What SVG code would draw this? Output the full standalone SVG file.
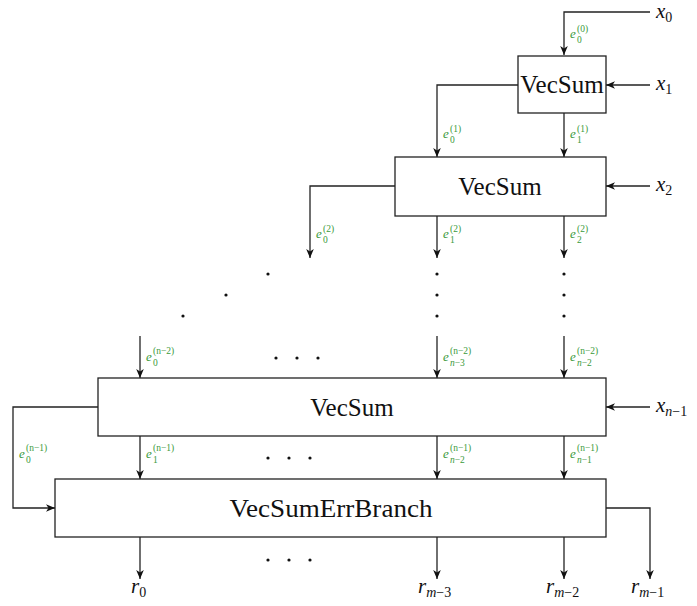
<svg xmlns="http://www.w3.org/2000/svg" width="697" height="606" viewBox="0 0 697 606">
<style>
.box{fill:#fff;stroke:#222;stroke-width:1.3}
.ln{fill:none;stroke:#222;stroke-width:1.3}
text{font-family:'Liberation Serif','DejaVu Serif',serif}
.lbl{font-size:25px;fill:#111}
.m{font-style:italic;font-size:21px;fill:#111}
.ms{font-size:14px;font-style:normal}
.msi{font-size:14px}
.g{fill:#3a9a3a;font-size:13px;font-style:italic}
.gs{font-size:9.5px;font-style:normal}
.gsi{font-size:9.5px}
.dot{fill:#111}
</style>
<defs>
<marker id="ah" markerUnits="userSpaceOnUse" viewBox="-10 -5 11 10" refX="0" refY="0" markerWidth="11" markerHeight="10" orient="auto">
<path d="M0,0 L-9,-3.8 L-6.5,0 L-9,3.8 Z" fill="#111"/>
</marker>
</defs>
<g id="connectors">
<path class="ln" d="M650,12 H564 V55" marker-end="url(#ah)"/>
<path class="ln" d="M650,85 H606" marker-end="url(#ah)"/>
<path class="ln" d="M518,85 H437 V157" marker-end="url(#ah)"/>
<path class="ln" d="M564,113 V157" marker-end="url(#ah)"/>
<path class="ln" d="M650,186 H606" marker-end="url(#ah)"/>
<path class="ln" d="M395,186 H310 V258" marker-end="url(#ah)"/>
<path class="ln" d="M437,216 V258" marker-end="url(#ah)"/>
<path class="ln" d="M564,216 V258" marker-end="url(#ah)"/>
<path class="ln" d="M140,336 V378" marker-end="url(#ah)"/>
<path class="ln" d="M437,336 V378" marker-end="url(#ah)"/>
<path class="ln" d="M564,336 V378" marker-end="url(#ah)"/>
<path class="ln" d="M650,407 H606" marker-end="url(#ah)"/>
<path class="ln" d="M98,407 H13 V508 H55" marker-end="url(#ah)"/>
<path class="ln" d="M140,436 V479" marker-end="url(#ah)"/>
<path class="ln" d="M437,436 V479" marker-end="url(#ah)"/>
<path class="ln" d="M564,436 V479" marker-end="url(#ah)"/>
<path class="ln" d="M606,508 H650 V579" marker-end="url(#ah)"/>
<path class="ln" d="M140,537 V579" marker-end="url(#ah)"/>
<path class="ln" d="M437,537 V579" marker-end="url(#ah)"/>
<path class="ln" d="M564,537 V579" marker-end="url(#ah)"/>
</g>
<g id="vecsum1">
<rect class="box" x="518" y="56" width="88" height="57"/>
<text class="lbl" x="562" y="93" text-anchor="middle">VecSum</text>
</g>
<g id="vecsum2">
<rect class="box" x="395" y="157" width="211" height="59"/>
<text class="lbl" x="500" y="195" text-anchor="middle">VecSum</text>
</g>
<g id="vecsum3">
<rect class="box" x="98" y="378" width="508" height="58"/>
<text class="lbl" x="352" y="416" text-anchor="middle">VecSum</text>
</g>
<g id="vecsumerrbranch">
<rect class="box" x="55" y="479" width="551" height="58"/>
<text class="lbl" x="331" y="517" text-anchor="middle" textLength="203" lengthAdjust="spacingAndGlyphs">VecSumErrBranch</text>
</g>
<g id="inputs">
<text class="m" x="656" y="18">x<tspan class="ms" dy="4">0</tspan></text>
<text class="m" x="656" y="90">x<tspan class="ms" dy="4">1</tspan></text>
<text class="m" x="656" y="191">x<tspan class="ms" dy="4">2</tspan></text>
<text class="m" x="656" y="412">x<tspan class="msi" dy="4">n</tspan><tspan class="ms">−1</tspan></text>
</g>
<g id="outputs">
<text class="m" x="131" y="593">r<tspan class="ms" dy="4">0</tspan></text>
<text class="m" x="418" y="593">r<tspan class="msi" dy="4">m</tspan><tspan class="ms">−3</tspan></text>
<text class="m" x="546" y="593">r<tspan class="msi" dy="4">m</tspan><tspan class="ms">−2</tspan></text>
<text class="m" x="631" y="593">r<tspan class="msi" dy="4">m</tspan><tspan class="ms">−1</tspan></text>
</g>
<g id="edge-labels">
<text class="g" x="570" y="38">e<tspan class="gs" x="577" y="32">(0)</tspan><tspan class="gs" x="577" y="43">0</tspan></text>
<text class="g" x="443" y="138">e<tspan class="gs" x="450" y="132">(1)</tspan><tspan class="gs" x="450" y="143">0</tspan></text>
<text class="g" x="570" y="138">e<tspan class="gs" x="577" y="132">(1)</tspan><tspan class="gs" x="577" y="143">1</tspan></text>
<text class="g" x="316" y="238">e<tspan class="gs" x="323" y="232">(2)</tspan><tspan class="gs" x="323" y="243">0</tspan></text>
<text class="g" x="443" y="238">e<tspan class="gs" x="450" y="232">(2)</tspan><tspan class="gs" x="450" y="243">1</tspan></text>
<text class="g" x="570" y="238">e<tspan class="gs" x="577" y="232">(2)</tspan><tspan class="gs" x="577" y="243">2</tspan></text>
<text class="g" x="146" y="361">e<tspan class="gs" x="153" y="354">(<tspan class="gsi">n</tspan>−2)</tspan><tspan class="gs" x="153" y="366">0</tspan></text>
<text class="g" x="443" y="361">e<tspan class="gs" x="450" y="354">(<tspan class="gsi">n</tspan>−2)</tspan><tspan class="gsi" x="450" y="366">n</tspan><tspan class="gs">−3</tspan></text>
<text class="g" x="570" y="361">e<tspan class="gs" x="577" y="354">(<tspan class="gsi">n</tspan>−2)</tspan><tspan class="gsi" x="577" y="366">n</tspan><tspan class="gs">−2</tspan></text>
<text class="g" x="19" y="458">e<tspan class="gs" x="26" y="451">(<tspan class="gsi">n</tspan>−1)</tspan><tspan class="gs" x="26" y="463">0</tspan></text>
<text class="g" x="146" y="458">e<tspan class="gs" x="153" y="451">(<tspan class="gsi">n</tspan>−1)</tspan><tspan class="gs" x="153" y="463">1</tspan></text>
<text class="g" x="443" y="458">e<tspan class="gs" x="450" y="451">(<tspan class="gsi">n</tspan>−1)</tspan><tspan class="gsi" x="450" y="463">n</tspan><tspan class="gs">−2</tspan></text>
<text class="g" x="570" y="458">e<tspan class="gs" x="577" y="451">(<tspan class="gsi">n</tspan>−1)</tspan><tspan class="gsi" x="577" y="463">n</tspan><tspan class="gs">−1</tspan></text>
</g>
<g id="ellipsis-dots">
<circle class="dot" cx="268" cy="274" r="1.6"/>
<circle class="dot" cx="226" cy="295" r="1.6"/>
<circle class="dot" cx="183" cy="316" r="1.6"/>
<circle class="dot" cx="437" cy="274" r="1.6"/>
<circle class="dot" cx="437" cy="295" r="1.6"/>
<circle class="dot" cx="437" cy="316" r="1.6"/>
<circle class="dot" cx="564" cy="274" r="1.6"/>
<circle class="dot" cx="564" cy="295" r="1.6"/>
<circle class="dot" cx="564" cy="316" r="1.6"/>
<circle class="dot" cx="276" cy="358" r="1.6"/>
<circle class="dot" cx="297" cy="358" r="1.6"/>
<circle class="dot" cx="318" cy="358" r="1.6"/>
<circle class="dot" cx="268" cy="458" r="1.6"/>
<circle class="dot" cx="289" cy="458" r="1.6"/>
<circle class="dot" cx="310" cy="458" r="1.6"/>
<circle class="dot" cx="268" cy="560" r="1.6"/>
<circle class="dot" cx="289" cy="560" r="1.6"/>
<circle class="dot" cx="310" cy="560" r="1.6"/>
</g>
</svg>
